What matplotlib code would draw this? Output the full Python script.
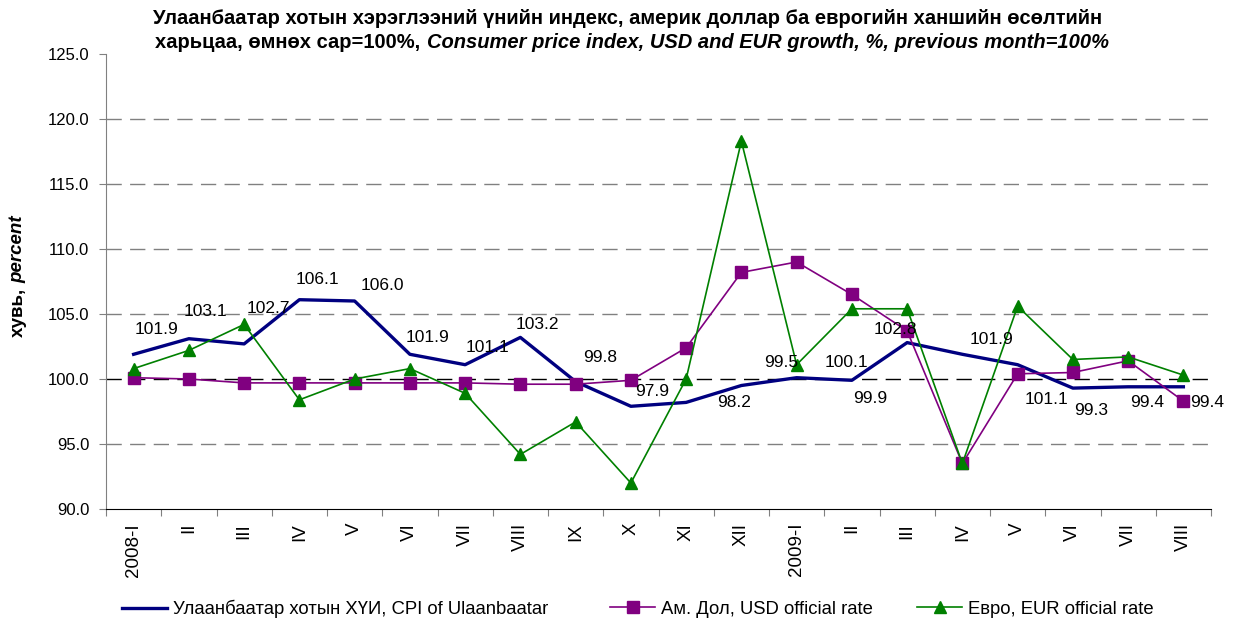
import numpy as np
import matplotlib
matplotlib.use("Agg")
import matplotlib.pyplot as plt

plt.rcParams['font.family'] = ['Liberation Sans', 'DejaVu Sans']

# categories (months)
months = ['2008-I', 'II', 'III', 'IV', 'V', 'VI', 'VII', 'VIII', 'IX', 'X', 'XI', 'XII',
          '2009-I', 'II', 'III', 'IV', 'V', 'VI', 'VII', 'VIII']

# CPI of Ulaanbaatar, previous month = 100
cpi = [101.9, 103.1, 102.7, 106.1, 106.0, 101.9, 101.1, 103.2, 99.8, 97.9, 98.2, 99.5,
       100.1, 99.9, 102.8, 101.9, 101.1, 99.3, 99.4, 99.4]
# USD official rate
usd = [100.1, 100.0, 99.7, 99.7, 99.7, 99.7, 99.7, 99.6, 99.6, 99.9, 102.4, 108.2,
       109.0, 106.5, 103.7, 93.5, 100.4, 100.5, 101.4, 98.3]
# EUR official rate
eur = [100.8, 102.2, 104.2, 98.4, 100.0, 100.8, 98.9, 94.2, 96.7, 92.0, 100.0, 118.3,
       101.1, 105.4, 105.4, 93.5, 105.6, 101.5, 101.7, 100.3]

series_names = ['Улаанбаатар хотын ХҮИ, CPI of Ulaanbaatar',
                'Ам. Дол, USD official rate',
                'Евро, EUR official rate']

# where the CPI value labels sit relative to the point (pixels, right / up)
label_offsets = [(23, 25), (17, 27), (24, 35), (18, 20), (28, 15), (18, 17), (22, 17),
                 (17, 13), (24, 24), (21, 15), (48, 0), (40, 23), (50, 15), (18, -18),
                 (-12, 13), (29, 15), (29, -35), (18, -22), (19, -16), (24, -16)]

fig = plt.figure(figsize=(12.34, 6.22), dpi=100)
ax = fig.add_axes([106 / 1234, 1 - 509 / 622, (1211 - 106) / 1234, (509 - 54) / 622])

x = np.arange(len(months))

# gridlines
for yv in [95, 105, 110, 115, 120]:
    ax.axhline(yv, color='#808080', lw=1.0, dashes=(11, 6), zorder=0)
ax.axhline(100, color='black', lw=1.0, dashes=(11, 6), zorder=0)

l1, = ax.plot(x, cpi, color='#000080', lw=2.4, zorder=3)
l2, = ax.plot(x, usd, color='#800080', lw=1.2, marker='s', markersize=8, zorder=4)
l3, = ax.plot(x, eur, color='#008000', lw=1.2, marker='^', markersize=9, zorder=5)

for xi, v, (dx, dy) in zip(x, cpi, label_offsets):
    ax.annotate(f"{v:.1f}", (xi, v), xytext=(dx * 0.72, dy * 0.72), textcoords='offset points',
                ha='center', va='center', fontsize=12.5, zorder=6)

ax.set_xlim(-0.5, len(months) - 0.5)
ax.set_ylim(90, 125)
ax.set_yticks(np.arange(90, 126, 5))
ax.set_yticklabels([f"{v:.1f}" for v in np.arange(90, 126, 5)], fontsize=12)

ax.set_xticks(np.arange(-0.5, len(months), 1))
ax.set_xticklabels([])
ax.set_xticks(x, minor=True)
ax.set_xticklabels(months, minor=True, rotation=90, fontsize=13.5, va='top')
ax.tick_params(axis='x', which='major', length=5, color='#808080')
ax.tick_params(axis='x', which='minor', length=0, pad=10)
ax.tick_params(axis='y', length=5, color='#808080', pad=7)

ax.spines['top'].set_visible(False)
ax.spines['right'].set_visible(False)
ax.spines['left'].set_color('#808080')
ax.spines['bottom'].set_color('black')

# legend entries placed like the original (one per series)
for line, name, left in zip([l1, l2, l3], series_names, [122, 610, 917]):
    fig.legend([line], [name], loc='center left', bbox_to_anchor=(left / 1234, 1 - 609 / 622),
               frameon=False, fontsize=13.3, handlelength=2.45, handletextpad=0.3,
               borderpad=0, borderaxespad=0)

# title: bold, second half bold italic
fig.canvas.draw()
r = fig.canvas.get_renderer()
W, H = fig.bbox.width, fig.bbox.height

fig.text(628 / W, 1 - 18 / H, 'Улаанбаатар хотын хэрэглээний үнийн индекс, америк доллар ба еврогийн ханшийн өсөлтийн',
         ha='center', va='center', fontsize=14.5, weight='bold')
ta = fig.text(0, 1 - 43 / H, 'харьцаа, өмнөх сар=100%,', ha='left', va='center', fontsize=14.5, weight='bold')
tb = fig.text(0, 1 - 43 / H, 'Consumer price index, USD and EUR growth, %, previous month=100%',
              ha='left', va='center', fontsize=14.5, weight='bold', style='italic')
wa = ta.get_window_extent(r).width
wb = tb.get_window_extent(r).width
gap = 6
x0 = 632 - (wa + gap + wb) / 2
ta.set_x(x0 / W)
tb.set_x((x0 + wa + gap) / W)

# y label: "хувь, percent"
ya = fig.text(18 / W, 0, 'хувь,', rotation=90, ha='center', va='bottom', fontsize=13.5, weight='bold')
yb = fig.text(18 / W, 0, 'percent', rotation=90, ha='center', va='bottom', fontsize=13.5,
              weight='bold', style='italic')
ha_ = ya.get_window_extent(r).height
hb_ = yb.get_window_extent(r).height
y0 = 276 - (ha_ + 5 + hb_) / 2  # from top
ya.set_y(1 - (y0 + hb_ + 5 + ha_) / H)
yb.set_y(1 - (y0 + hb_) / H)

fig.savefig('out.png', dpi=100)
